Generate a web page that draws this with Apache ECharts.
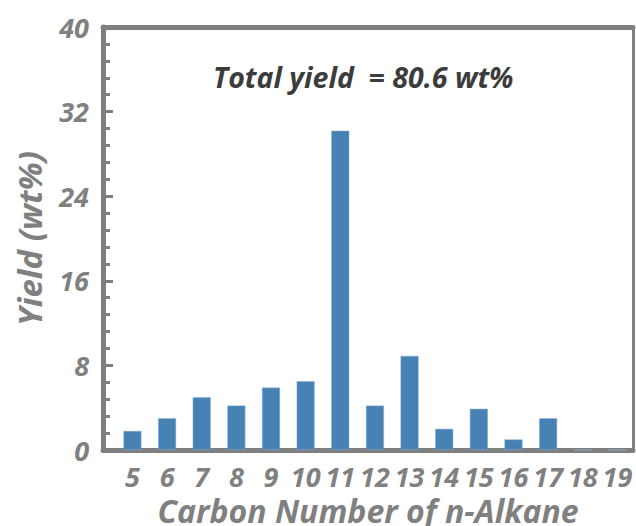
<!DOCTYPE html>
<html lang="en">
<head>
    <meta charset="UTF-8">
    <title>n-Alkane yield</title>
    <script src="https://cdn.jsdelivr.net/npm/echarts@6.0.0/dist/echarts.min.js"></script>
    <style>
        html, body { margin: 0; padding: 0; background: #fff; }
        #chart { width: 636px; height: 526px; }
    </style>
</head>
<body>
    <div id="chart"></div>
    <script>
        // carbon numbers and yields (wt%)
        const carbonNumbers = [5, 6, 7, 8, 9, 10, 11, 12, 13, 14, 15, 16, 17, 18, 19];
        const yields = [1.8, 3.0, 5.0, 4.2, 5.9, 6.5, 30.2, 4.2, 8.9, 2.0, 3.9, 1.0, 3.0, 0, 0];
        const yTicks = [0, 8, 16, 24, 32, 40];

        const textGrey = '#808080';
        const lineGrey = '#7f7f7f';
        const font = 'Open Sans';

        const textStyle = (size, color) => ({
            fontFamily: font,
            fontSize: size,
            fontWeight: 'bold',
            fontStyle: 'italic',
            color: color || textGrey
        });
        const line = width => ({ color: lineGrey, width: width, type: 'solid' });

        // svg renderer: the canvas one drew the axis lines too thin here
        const chart = echarts.init(document.getElementById('chart'), null, { renderer: 'svg' });

        const option = {
            animation: false,
            title: {
                text: 'Total yield  = 80.6 wt%',
                left: 208,
                top: 57,
                textStyle: textStyle(28.5, '#3c3c3c')
            },
            grid: {
                left: 103,
                top: 27,
                right: 3,
                bottom: 76,
                containLabel: false,
                outerBoundsMode: 'none'
            },
            xAxis: [
                {
                    type: 'value',
                    min: 4.15,
                    max: 19.45,
                    name: 'Carbon Number of n-Alkane',
                    nameLocation: 'middle',
                    nameGap: 41,
                    nameTextStyle: textStyle(32),
                    axisLine: { show: true, onZero: false, lineStyle: line(5) },
                    axisTick: { show: false },
                    splitLine: { show: false },
                    axisLabel: Object.assign({ customValues: carbonNumbers, margin: 13 }, textStyle(27))
                },
                {
                    // top frame line
                    type: 'value',
                    position: 'top',
                    min: 4.15,
                    max: 19.45,
                    axisLine: { show: true, onZero: false, lineStyle: line(5) },
                    axisTick: { show: false },
                    axisLabel: { show: false },
                    splitLine: { show: false }
                }
            ],
            yAxis: [
                {
                    type: 'value',
                    min: 0,
                    max: 40,
                    interval: 8,
                    name: 'Yield (wt%)',
                    nameLocation: 'middle',
                    nameGap: 57,
                    nameTextStyle: textStyle(33),
                    axisLine: { show: true, onZero: false, lineStyle: line(5) },
                    axisTick: {
                        show: true,
                        inside: true,
                        length: 10,
                        lineStyle: line(3)
                    },
                    minorTick: {
                        show: true,
                        splitNumber: 5,
                        length: 7,
                        lineStyle: line(3)
                    },
                    splitLine: { show: false },
                    axisLabel: Object.assign({
                        margin: 14,
                        formatter: v => yTicks.includes(v) ? String(v) : ''
                    }, textStyle(27))
                },
                {
                    // right frame line
                    type: 'value',
                    position: 'right',
                    min: 0,
                    max: 40,
                    axisLine: { show: true, onZero: false, lineStyle: line(3) },
                    axisTick: { show: false },
                    axisLabel: { show: false },
                    splitLine: { show: false }
                }
            ],
            series: [
                {
                    type: 'bar',
                    data: carbonNumbers.map((c, i) => [c, yields[i]]),
                    barWidth: 18,
                    itemStyle: {
                        color: '#4682b4',
                        borderColor: '#8fb4d6',
                        borderWidth: 0.5
                    }
                }
            ]
        };

        chart.setOption(option);
    </script>
</body>
</html>
